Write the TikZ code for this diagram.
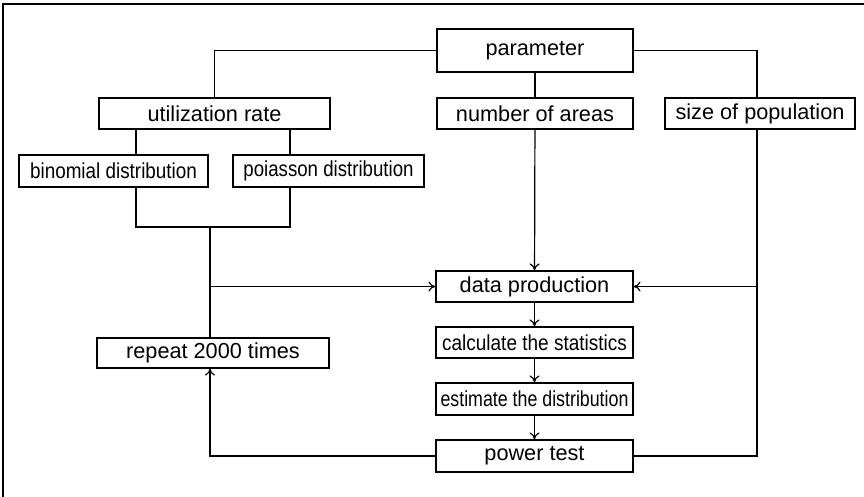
\documentclass[tikz,border=0pt]{standalone}
\usepackage{fontspec}
\setmainfont{Liberation Sans}
\usepackage{graphicx}
\usetikzlibrary{arrows.meta}
\tikzset{
	box/.style={draw,inner sep=0pt,minimum height=15.5pt,font=\fontsize{10.85pt}{13pt}\selectfont},
	>={To[length=3.5pt,width=5pt]}
}
\newcommand{\narrowtext}[2]{\scalebox{#1}[1]{#2}}
\begin{document}
\begin{tikzpicture}[x=0.5pt,y=-0.5pt,line width=0.6pt]
				\useasboundingbox (0,0) rectangle (864,497);
				\draw (3,497) -- (3,4) -- (864,4);
				\node[box,minimum width=98pt,minimum height=21.5pt] (param) at (535,50.5) {parameter};
				\node[box,minimum width=115.5pt] (util) at (214.5,113.5) {utilization rate};
				\node[box,minimum width=98pt] (areas) at (535,113.5) {number of areas};
				\node[box,minimum width=95pt] (size) at (760,113.5) {size of population};
				\node[box,minimum width=94.5pt,minimum height=16pt] (binom) at (113.5,171) {\narrowtext{0.87}{binomial distribution}};
				\node[box,minimum width=95.5pt,minimum height=16pt] (poiss) at (328.5,171) {\narrowtext{0.86}{poiasson distribution}};
				\node[box,minimum width=98.5pt] (data) at (534.5,286.5) {data production};
				\node[box,minimum width=98.5pt] (calc) at (534.5,342.5) {\narrowtext{0.875}{calculate the statistics}};
				\node[box,minimum width=98.5pt,minimum height=16pt] (est) at (534.5,399) {\narrowtext{0.82}{estimate the distribution}};
				\node[box,minimum width=98.5pt,minimum height=16pt] (power) at (534.5,456) {power test};
				\node[box,minimum width=116pt,minimum height=15pt] (repeat) at (213,353) {repeat 2000 times};
				\coordinate (lft) at (136,0);
				\coordinate (mid) at (290,0);
				\coordinate (join) at (210,227);
				\coordinate (rgt) at (757,0);
				\draw (param.west) -| (util.north);
				\draw (param.east) -| (size.north -| rgt);
				\draw (param) -- (areas);
				\draw[->] (areas) -- (data);
				\draw (util.south -| lft) -- (binom.north -| lft);
				\draw (util.south -| mid) -- (poiss.north -| mid);
				\draw (binom.south -| lft) |- (join) -| (poiss.south -| mid);
				\draw (join) -- (repeat.north -| join);
				\draw[->] (join |- data) -- (data.west);
				\draw (size.south -| rgt) |- (power.east);
				\draw[->] (data.east -| rgt) -- (data.east);
				\draw[->] (data) -- (calc);
				\draw[->] (calc) -- (est);
				\draw[->] (est) -- (power);
				\draw[->] (power.west) -| (repeat.south -| join);
			\end{tikzpicture}
\end{document}
